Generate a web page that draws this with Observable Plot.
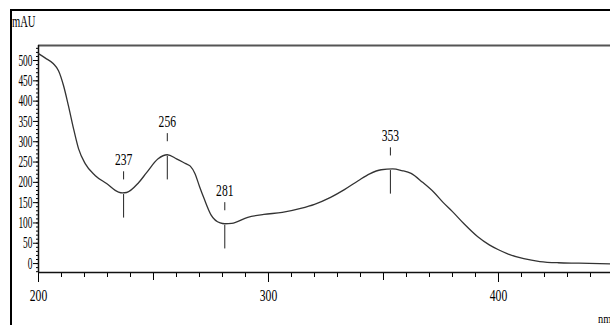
<!DOCTYPE html>
<html><head><meta charset="utf-8">
<script src="https://cdn.jsdelivr.net/npm/d3@7"></script>
<script src="https://cdn.jsdelivr.net/npm/@observablehq/plot@0.6"></script>
<style>
body{margin:0;background:#fff;}
#wrap{position:relative;width:610px;height:325px;overflow:hidden;background:#fff;}
#wrap svg{position:absolute;left:0;top:0;}
#frame{position:absolute;left:10px;top:9px;width:620px;height:330px;border-top:2px solid #000;border-left:2px solid #000;}
.lbl{position:absolute;font-family:"Liberation Serif";font-size:16px;line-height:16px;color:#000;transform-origin:left center;white-space:nowrap;}
</style></head><body>
<div id="wrap"><div id="frame"></div><div class="lbl" id="yl" style="left:12px;top:14px;transform:scaleX(0.66)">mAU</div><div class="lbl" id="xl" style="left:598px;top:311px;font-size:13px;transform:scaleX(0.8)">nm</div></div>
<script>
// UV spectrum: wavelength (nm) and absorbance (mAU)
const wavelength = [200,203,206.5,208.7,210.9,213,215.2,217.4,220.3,224.6,229.6,234.8,236.5,238.3,243.5,247,252,256,260,264,266,268,270,272,275,279,281,284,291,298,306,314,320,327,333,339,344,349,354,358,362,367,372,376,380,385,391,396,400,404,411,418,426,435,449];
const absorbance = [517,506,492,475,438,389,333,283,246,217,197,176,174,175,199,224,258,268,258,246,240,222,190,160,120,100,98,99,114,121,126,136,146,163,182,204,221,231,233,229,222,200,175,150,128,98,66,46,34,24,12,5,2,1,-1];
const peakNm = [237,256,281,353];
const peakAbs = [174,268,98,233];
const peakLabel = ["237","256","281","353"];
const xMajorTicks = [200,300,400];
const xMidTicks = [250,350];
const xMinorTicks = d3.range(200,450,10);
const yMajorTicks = [0,50,100,150,200,250,300,350,400,450,500];
const yMinorTicks = d3.range(-20,531,10);

const xDomain = [200,448.7], yDomain = [-22,537];
const curve = wavelength.map((w,i)=>({w,a:absorbance[i]}));
const peaks = peakNm.map((w,i)=>({w,a:peakAbs[i],t:peakLabel[i]}));

const chart = Plot.plot({
  width:610,height:325,marginLeft:38,marginTop:45,marginBottom:53,marginRight:0,
  style:{fontFamily:"Liberation Serif",fontSize:"17px",color:"#000",background:"transparent",overflow:"visible"},
  x:{domain:xDomain,label:null},
  y:{domain:yDomain,label:null},
  marks:[
    Plot.ruleY([yDomain[1]],{stroke:"#555",strokeWidth:2}),
    Plot.axisX({ticks:xMinorTicks,tickSize:5,tickFormat:()=>"",label:null}),
    Plot.axisX({ticks:xMidTicks,tickSize:8,tickFormat:()=>"",label:null}),
    Plot.axisX({ticks:xMajorTicks,tickSize:10,tickPadding:6,tickFormat:d=>String(d),label:null}),
    Plot.axisY({ticks:yMinorTicks,tickSize:2,tickFormat:()=>"",label:null}),
    Plot.axisY({ticks:yMajorTicks,tickSize:5,tickPadding:1,tickFormat:d=>String(d),label:null,fontSize:16}),
    Plot.ruleX([xDomain[0]],{stroke:"#111",strokeWidth:1.5}),
    Plot.ruleY([yDomain[0]],{stroke:"#111",strokeWidth:1.5}),
    Plot.line(curve,{x:"w",y:"a",stroke:"#333",strokeWidth:1.3,curve:"monotone-x"}),
    Plot.ruleX(peaks,{x:"w",y1:d=>d.a+32,y2:d=>d.a+52,stroke:"#222"}),
    Plot.ruleX(peaks,{x:"w",y1:d=>d.a-4,y2:d=>d.a-62,stroke:"#222"}),
    Plot.text(peaks,{x:"w",y:"a",text:"t",dy:-33,fill:"#000"})
  ]
});
document.getElementById("wrap").appendChild(chart);
chart.querySelectorAll("text").forEach(t=>{
  const s=t.textContent; if(!s) return;
  const isY = t.closest('[aria-label="y-axis tick label"]');
  const per = isY?4.7:5.8;
  t.setAttribute("textLength", s.length*per);
  t.setAttribute("lengthAdjust","spacingAndGlyphs");
});
</script>
</body></html>
